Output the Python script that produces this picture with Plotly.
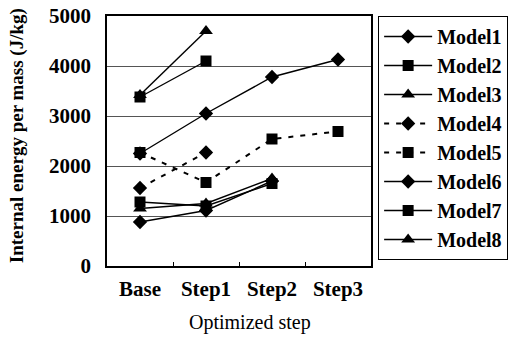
import plotly.graph_objects as go

steps = ["Base", "Step1", "Step2", "Step3"]
model_names = ["Model1", "Model2", "Model3", "Model4", "Model5", "Model6", "Model7", "Model8"]
model1 = [2250, 3050, 3780, 4130]
model2 = [3380, 4100]
model3 = [3420, 4700]
model4 = [1560, 2270]
model5 = [2270, 1670, 2540, 2690]
model6 = [880, 1110, 1700]
model7 = [1280, 1200, 1650]
model8 = [1150, 1250, 1750]
y_ticks = [0, 1000, 2000, 3000, 4000, 5000]

series = [model1, model2, model3, model4, model5, model6, model7, model8]
symbols = ["diamond", "square", "triangle-up", "diamond", "square", "diamond", "square", "triangle-up"]
dashes = ["solid", "solid", "solid", "5px,7px", "5px,7px", "solid", "solid", "solid"]

FONT = "Liberation Serif"
fig = go.Figure()
for name, vals, sym, dsh in zip(model_names, series, symbols, dashes):
    fig.add_trace(go.Scatter(
        x=steps[:len(vals)], y=vals, name=name, mode="lines+markers",
        line=dict(color="black", width=1.4 if dsh == "solid" else 2, dash=dsh),
        marker=dict(symbol=sym, color="black", size=11 if sym != "triangle-up" else 12),
    ))

fig.update_layout(
    width=516, height=343,
    margin=dict(l=107, r=145, t=16, b=77, autoexpand=False),
    paper_bgcolor="white", plot_bgcolor="white",
    font=dict(family=FONT, color="black"),
    showlegend=True,
    legend=dict(x=1.027, y=1.0, xanchor="left", yanchor="top",
                bordercolor="black", borderwidth=1, bgcolor="white",
                font=dict(family=FONT, size=20, weight="bold", color="black"),
                itemwidth=48, maxheight=300),
    xaxis=dict(type="category", categoryorder="array", categoryarray=steps,
               range=[-0.5, 3.5], showline=True, linecolor="black", linewidth=1.5,
               mirror=True, showgrid=False, ticks="inside", tickson="boundaries",
               ticklen=4, tickcolor="black", ticklabelstandoff=3, automargin=False,
               tickfont=dict(family=FONT, size=21, weight="bold", color="black")),
    yaxis=dict(range=[0, 5000], tickvals=y_ticks, showline=True, linecolor="black",
               linewidth=1.5, mirror=True, showgrid=True, gridcolor="#555555",
               gridwidth=1, ticks="outside", ticklen=10, tickcolor="rgba(0,0,0,0)",
               zeroline=False, automargin=False,
               tickfont=dict(family=FONT, size=21, weight="bold", color="black")),
    annotations=[
        dict(text="Internal energy per mass (J/kg)", xref="paper", yref="paper",
             x=-0.34, y=0.52, textangle=-90, showarrow=False, xanchor="center", yanchor="middle",
             font=dict(family=FONT, size=19, weight="bold", color="black")),
        dict(text="Optimized step", xref="paper", yref="paper",
             x=0.54, y=-0.225, showarrow=False, xanchor="center", yanchor="middle",
             font=dict(family=FONT, size=20, color="black")),
    ],
)

fig.write_html("out.html")
